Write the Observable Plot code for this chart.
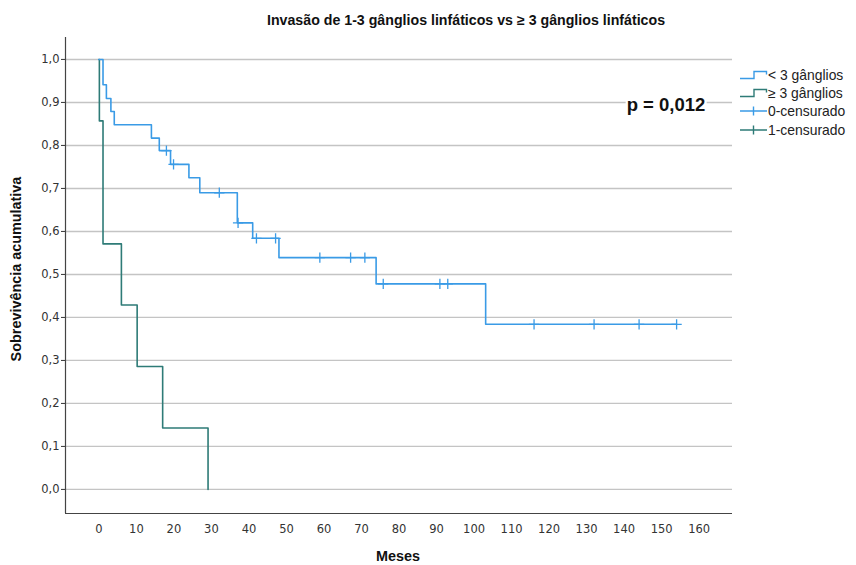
<!DOCTYPE html>
<html>
<head>
<meta charset="utf-8">
<script src="https://cdn.jsdelivr.net/npm/d3@7"></script>
<script src="https://cdn.jsdelivr.net/npm/@observablehq/plot@0.6"></script>
<style>
  html, body { margin: 0; padding: 0; background: #fff; }
  #wrap { position: relative; width: 856px; height: 565px; overflow: hidden; font-family: "Liberation Sans", Arial, sans-serif; }
  #wrap > svg { position: absolute; left: 0; top: 0; }
  .ov { position: absolute; white-space: nowrap; color: #111; }
  .title { font-weight: bold; font-size: 14.2px; left: 466px; top: 20px; transform: translate(-50%, -50%); }
  .xlab { font-weight: bold; font-size: 14.4px; left: 398px; top: 556px; transform: translate(-50%, -50%); }
  .ylab { font-weight: bold; font-size: 14.4px; left: 16px; top: 269px; transform: translate(-50%, -50%) rotate(-90deg); }
  .pval { font-weight: bold; font-size: 18.5px; left: 666px; top: 105px; transform: translate(-50%, -50%); background: #fff; padding: 0 1px; }
  #wrap .leg { position: absolute; left: 740px; top: 66px; font-size: 13.9px; color: #222; }
  #wrap .leg .row { display: flex; align-items: center; height: 18.2px; }
  #wrap .leg svg { position: static; margin-right: 0px; flex: none; }
</style>
</head>
<body>
<div id="wrap"></div>
<script>
// Kaplan-Meier steps: < 3 gânglios
const group1Times = [0, 1.1, 2.0, 3.2, 4.1, 14.0, 16.1, 19.1, 24.0, 26.9, 36.9, 41.0, 48.0, 73.9, 103.1, 154];
const group1Surv  = [1, 0.941, 0.909, 0.879, 0.848, 0.817, 0.788, 0.756, 0.725, 0.690, 0.620, 0.584, 0.539, 0.478, 0.384, 0.384];
// censored: < 3 gânglios
const cens1Times = [18.0, 19.9, 32.1, 37.1, 42.0, 47.1, 58.9, 67.1, 70.9, 75.8, 90.9, 93.0, 116, 132, 144, 154];
const cens1Surv  = [0.788, 0.756, 0.690, 0.620, 0.584, 0.584, 0.539, 0.539, 0.539, 0.478, 0.478, 0.478, 0.384, 0.384, 0.384, 0.384];
// Kaplan-Meier steps: ≥ 3 gânglios
const group2Times = [0, 0.13, 1.1, 6.0, 10.2, 17.0, 29.1];
const group2Surv  = [1, 0.857, 0.571, 0.429, 0.286, 0.143, 0];

const xTicks = [0, 10, 20, 30, 40, 50, 60, 70, 80, 90, 100, 110, 120, 130, 140, 150, 160];
const yTicks = [0, 0.1, 0.2, 0.3, 0.4, 0.5, 0.6, 0.7, 0.8, 0.9, 1.0];
const xDomain = [-8.9, 168.9];
const yDomain = [-0.056, 1.051];

const seriesNames = ["< 3 gânglios", "≥ 3 gânglios"];
const censorNames = ["0-censurado", "1-censurado"];
const colors = ["#3a9be6", "#2e7b77"];

const g1 = group1Times.map((t, i) => ({t, s: group1Surv[i]}));
const g2 = group2Times.map((t, i) => ({t, s: group2Surv[i]}));
const c1 = cens1Times.map((t, i) => ({t, s: cens1Surv[i]}));

const fmt = d => d3.format(".1f")(d).replace(".", ",");

const chart = Plot.plot({
  width: 856,
  height: 565,
  marginLeft: 65,
  marginRight: 124,
  marginTop: 37,
  marginBottom: 52,
  style: { fontFamily: "DejaVu Sans", fontSize: "11.5px", color: "#333", background: "transparent" },
  x: { domain: xDomain, ticks: xTicks, tickSize: 0, tickPadding: 11, label: null, tickFormat: d => String(d) },
  y: { domain: yDomain, ticks: yTicks, tickSize: 4, tickPadding: 2, label: null, tickFormat: fmt },
  marks: [
    Plot.ruleY(yTicks, { stroke: "#c4c4c4", strokeWidth: 1.4 }),
    Plot.ruleX([xDomain[0]], { stroke: "#444", strokeWidth: 1.2 }),
    Plot.ruleY([yDomain[0]], { stroke: "#444", strokeWidth: 1.2 }),
    Plot.line(g2, { x: "t", y: "s", curve: "step-after", stroke: colors[1], strokeWidth: 1.6 }),
    Plot.line(g1, { x: "t", y: "s", curve: "step-after", stroke: colors[0], strokeWidth: 1.6 }),
    Plot.dot(c1, { x: "t", y: "s", symbol: "plus", r: 3.4, stroke: colors[0], strokeWidth: 1.3 })
  ]
});

const wrap = document.getElementById("wrap");
wrap.appendChild(chart);

function addText(cls, txt) {
  const d = document.createElement("div");
  d.className = "ov " + cls;
  d.textContent = txt;
  wrap.appendChild(d);
}
addText("title", "Invasão de 1-3 gânglios linfáticos vs ≥ 3 gânglios linfáticos");
addText("xlab", "Meses");
addText("ylab", "Sobrevivência acumulativa");
addText("pval", "p = 0,012");

// legend
const leg = document.createElement("div");
leg.className = "leg";
const ns = "http://www.w3.org/2000/svg";
function icon(kind, color) {
  const s = document.createElementNS(ns, "svg");
  s.setAttribute("width", 28); s.setAttribute("height", 12);
  const p = document.createElementNS(ns, "path");
  p.setAttribute("d", kind === "step" ? "M0,9.5H14V2.5H26.5V5.5" : "M0,6H27M13.5,1.5V10.5");
  p.setAttribute("fill", "none");
  p.setAttribute("stroke", color);
  p.setAttribute("stroke-width", 1.4);
  s.appendChild(p);
  return s;
}
[[seriesNames[0], "step", colors[0]], [seriesNames[1], "step", colors[1]],
 [censorNames[0], "plus", colors[0]], [censorNames[1], "plus", colors[1]]].forEach(([txt, kind, col]) => {
  const r = document.createElement("div");
  r.className = "row";
  r.appendChild(icon(kind, col));
  const sp = document.createElement("span");
  sp.textContent = txt;
  r.appendChild(sp);
  leg.appendChild(r);
});
wrap.appendChild(leg);
</script>
</body>
</html>
